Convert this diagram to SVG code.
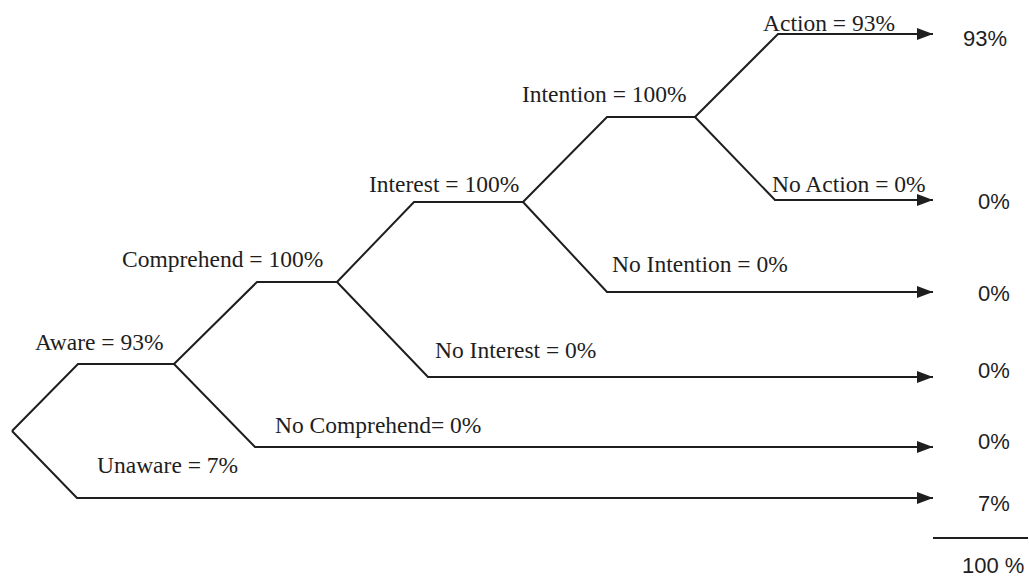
<svg xmlns="http://www.w3.org/2000/svg" width="1029" height="579" viewBox="0 0 1029 579">
<style>
.ln{fill:none;stroke:#1e1e1e;stroke-width:2;stroke-linejoin:miter}
.lb{font-family:"Liberation Serif","Times New Roman",serif;font-size:23.5px;fill:#1e1e1e}
.vl{font-family:"Liberation Sans",Arial,sans-serif;font-size:22px;fill:#1e1e1e}
</style>
<defs>
<marker id="ah" viewBox="0 0 16 12" refX="16" refY="6" markerWidth="16" markerHeight="12" markerUnits="userSpaceOnUse" orient="auto">
<path d="M0,0 L16,6 L0,12 Z" fill="#1e1e1e"/>
</marker>
</defs>
<rect width="1029" height="579" fill="#ffffff"/>
<g id="connectors">
<polyline class="ln" points="12,431 78,364 174,364"/>
<polyline class="ln" points="12,431 77,498 933,498" marker-end="url(#ah)"/>
<polyline class="ln" points="174,364 257,282 337,282"/>
<polyline class="ln" points="174,364 255,447 933,447" marker-end="url(#ah)"/>
<polyline class="ln" points="337,282 414,202 523,202"/>
<polyline class="ln" points="337,282 428,377 933,377" marker-end="url(#ah)"/>
<polyline class="ln" points="523,202 607,117 695,117"/>
<polyline class="ln" points="523,202 607,292 933,292" marker-end="url(#ah)"/>
<polyline class="ln" points="695,117 778,34 933,34" marker-end="url(#ah)"/>
<polyline class="ln" points="695,117 775,200 933,200" marker-end="url(#ah)"/>
<line class="ln" x1="933" y1="538" x2="1028" y2="538"/>
</g>
<g id="aware"><text class="lb" x="35" y="350">Aware = 93%</text></g>
<g id="unaware"><text class="lb" x="97" y="473">Unaware = 7%</text></g>
<g id="comprehend"><text class="lb" x="122" y="267">Comprehend = 100%</text></g>
<g id="no-comprehend"><text class="lb" x="275" y="433">No Comprehend= 0%</text></g>
<g id="interest"><text class="lb" x="369" y="192">Interest = 100%</text></g>
<g id="no-interest"><text class="lb" x="435" y="358">No Interest = 0%</text></g>
<g id="intention"><text class="lb" x="522" y="102">Intention = 100%</text></g>
<g id="no-intention"><text class="lb" x="612" y="272">No Intention = 0%</text></g>
<g id="action"><text class="lb" x="763" y="31">Action = 93%</text></g>
<g id="no-action"><text class="lb" x="772" y="192">No Action = 0%</text></g>
<g id="out-action"><text class="vl" x="963" y="46">93%</text></g>
<g id="out-no-action"><text class="vl" x="978" y="209">0%</text></g>
<g id="out-no-intention"><text class="vl" x="978" y="301">0%</text></g>
<g id="out-no-interest"><text class="vl" x="978" y="378">0%</text></g>
<g id="out-no-comprehend"><text class="vl" x="978" y="449">0%</text></g>
<g id="out-unaware"><text class="vl" x="978" y="511">7%</text></g>
<g id="total"><text class="vl" x="962" y="573">100 %</text></g>
</svg>
